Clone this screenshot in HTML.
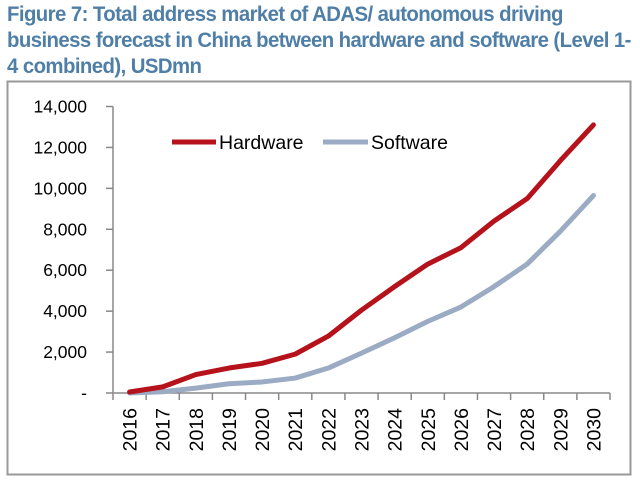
<!DOCTYPE html>
<html><head><meta charset="utf-8"><style>
body{margin:0;background:#fff;width:640px;height:483px;overflow:hidden;font-family:"Liberation Sans",sans-serif}
#title{position:absolute;left:7px;top:2px;white-space:nowrap;color:#4f7fa6;font-weight:bold;font-size:21px;line-height:26px;letter-spacing:-0.6px;transform:scaleX(0.97);transform-origin:0 0}
</style></head><body>
<div id="title">Figure 7: Total address market of ADAS/ autonomous driving<br>business forecast in China between hardware and software (Level 1-<br>4 combined), USDmn</div>
<svg id="chart" width="640" height="483" style="position:absolute;left:0;top:0">
<rect x="7.5" y="81.5" width="623" height="393" fill="none" stroke="#999" stroke-width="2"/>
</svg>
<script>
const categories=["2016","2017","2018","2019","2020","2021","2022","2023","2024","2025","2026","2027","2028","2029","2030"];
const hardware=[50,300,900,1220,1450,1900,2780,4050,5200,6300,7100,8400,9500,11350,13100];
const software=[0,60,240,450,540,730,1220,1950,2700,3500,4200,5200,6300,7900,9650];
const yTicks=[0,2000,4000,6000,8000,10000,12000,14000];
const yTickLabels=["-","2,000","4,000","6,000","8,000","10,000","12,000","14,000"];
const NS="http://www.w3.org/2000/svg";
const svg=document.getElementById('chart');
const X0=113,X1=610,Y0=393,Y1=106.5,YMAX=14000;
const bw=(X1-X0)/categories.length;
function xs(i){return X0+bw*(i+0.5);}
function ys(v){return Y0-(Y0-Y1)*v/YMAX;}
function mk(t,a){const e=document.createElementNS(NS,t);for(const k in a)e.setAttribute(k,a[k]);svg.appendChild(e);return e;}
let ax=mk('line',{x1:X0,y1:Y1,x2:X0,y2:Y0,stroke:'#888','stroke-width':1.5});


let bx=mk('line',{x1:X0,y1:Y0,x2:X1,y2:Y0,stroke:'#888','stroke-width':1.5});


yTicks.forEach((v,i)=>{
 const y=ys(v);
 const t=mk('line',{x1:X0-7,y1:y,x2:X0,y2:y,stroke:'#888','stroke-width':1.5});
 
 
 const l=mk('text',{x:87,y:y+6,'text-anchor':'end','font-size':17.5,fill:'#000'});
 l.textContent=yTickLabels[i];
 
 
});
for(let i=0;i<=categories.length;i++){
 const x=X0+bw*i;
 const t=mk('line',{x1:x,y1:Y0,x2:x,y2:Y0+7,stroke:'#888','stroke-width':1.5});
 
 
}
categories.forEach((c,i)=>{
 const x=xs(i)+7;
 const l=mk('text',{x:x,y:408,'text-anchor':'end','font-size':19.5,fill:'#000',transform:`rotate(-90 ${x} 408)`});
 l.textContent=c;
 
 
});
function series(vals,color,name){
 const p=mk('polyline',{points:vals.map((v,i)=>xs(i)+','+ys(v)).join(' '),fill:'none',stroke:color,'stroke-width':5,'stroke-linejoin':'round','stroke-linecap':'round'});
 
 
}
series(software,'#9aabc3','software-line');
series(hardware,'#b5121b','hardware-line');
let l1=mk('line',{x1:172,y1:142,x2:216,y2:142,stroke:'#b5121b','stroke-width':5});


let t1=mk('text',{x:219,y:149,'font-size':19.5,fill:'#000'});t1.textContent='Hardware';


let l2=mk('line',{x1:323,y1:142,x2:368,y2:142,stroke:'#9aabc3','stroke-width':5});


let t2=mk('text',{x:371,y:149,'font-size':19.5,fill:'#000'});t2.textContent='Software';


</script>
</body></html>
